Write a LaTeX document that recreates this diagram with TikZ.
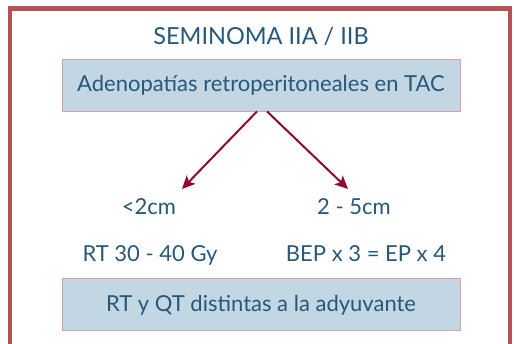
\documentclass[tikz,border=0pt]{standalone}
\usepackage{fontspec}
\setmainfont{Lato}
\usepackage{tikz}
\usepackage{xcolor}
\definecolor{semFrame}{HTML}{B25356}
\definecolor{semText}{HTML}{25587A}
\definecolor{semBox}{HTML}{C3D6E3}
\definecolor{semBoxLine}{HTML}{D9A2A7}
\definecolor{semArrow}{HTML}{8E0B2C}
\usetikzlibrary{arrows.meta}

\tikzset{
  semlabel/.style={text=semText, font=\fontsize{22}{26}\selectfont, anchor=base, inner sep=0pt},
  sembox/.style={fill=semBox, draw=semBoxLine, line width=0.8pt, text=semText,
    font=\fontsize{22}{26}\selectfont, minimum width=398pt, minimum height=52pt,
    text height=16pt, text depth=2.5pt, inner sep=0pt},
  semarrow/.style={draw=semArrow, line width=2pt, -{Stealth[length=13pt, width=12pt, inset=3pt]}}
}

\begin{document}
\begin{tikzpicture}[x=1pt, y=-1pt]
  \useasboundingbox (0,0) rectangle (514,343);
  % outer frame
  \draw[semFrame, line width=4.5pt] (10,8.5) rectangle (510,347);
  \node[semlabel, font=\fontsize{23.5}{28}\selectfont] (title) at (261,44) {SEMINOMA IIA / IIB};
  \node[sembox] (ctbox) at (261,85) {Adenopatías retroperitoneales en TAC};
  % branches
  \coordinate (lefttip) at (182,189);
  \coordinate (righttip) at (348,189);
  \draw[semarrow] ([xshift=-4pt]ctbox.south) -- (lefttip);
  \draw[semarrow] ([xshift=6pt]ctbox.south) -- (righttip);
  \node[semlabel] (small) at (149,214) {<2cm};
  \node[semlabel] (large) at (354,214) {2 - 5cm};
  \node[semlabel] (rtdose) at (150,261) {RT 30 - 40 Gy};
  \node[semlabel] (bep) at (366,261) {BEP x 3 = EP x 4};
  \node[sembox] (otherbox) at (261,304.5) {RT y QT distintas a la adyuvante};
\end{tikzpicture}
\end{document}
